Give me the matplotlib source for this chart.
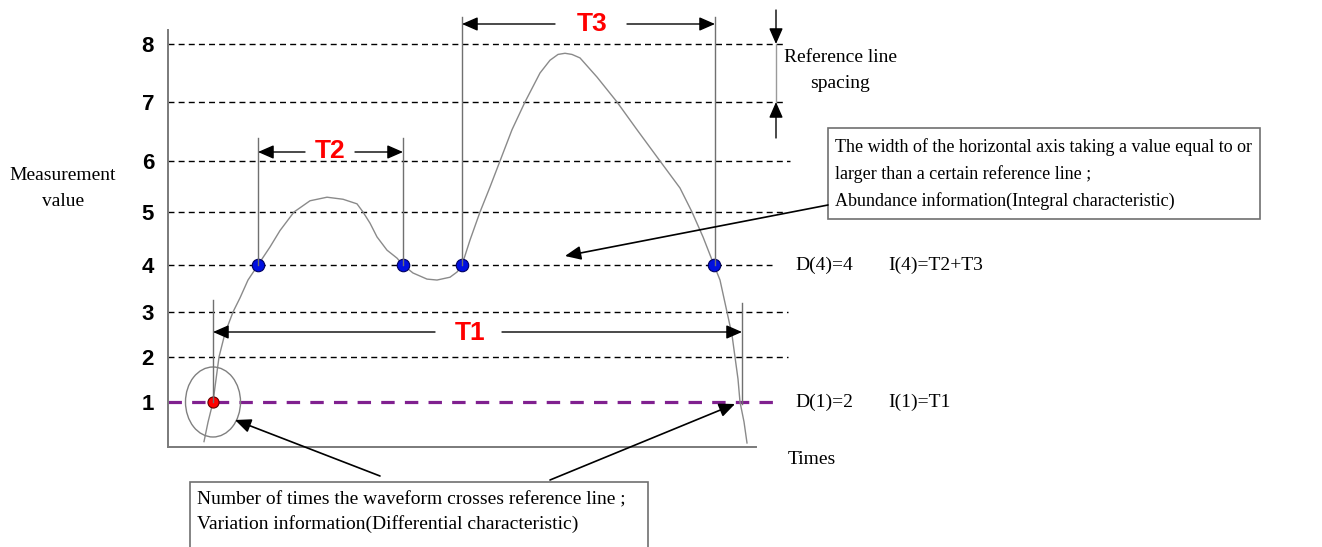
import numpy as np
import matplotlib
matplotlib.use("Agg")
import matplotlib.pyplot as plt
from matplotlib.patches import Ellipse, Rectangle

# reference levels and waveform (time in arbitrary units)
ref_levels = [1, 2, 3, 4, 5, 6, 7, 8]
wave_time = [204, 208, 213, 216, 219, 225, 233, 240, 248, 258, 270, 280, 294, 310,
             327, 343, 357, 363, 370, 377, 387, 397, 403, 413, 427, 437, 450, 457,
             462, 470, 480, 490, 500, 512, 525, 540, 550, 558, 565, 572, 580, 597,
             617, 637, 660, 680, 692, 703, 714, 720, 727, 732, 735, 738, 740, 744, 747]
wave_value = [0.12, 0.55, 1.0, 1.5, 2.0, 2.53, 3.0, 3.30, 3.68, 4.0, 4.34, 4.65, 5.0, 5.22,
              5.29, 5.25, 5.16, 5.0, 4.79, 4.53, 4.28, 4.13, 4.0, 3.83, 3.70, 3.68, 3.74, 3.85,
              4.0, 4.47, 5.0, 5.49, 6.0, 6.53, 7.0, 7.5, 7.72, 7.82, 7.84, 7.82, 7.76, 7.43,
              7.0, 6.53, 6.0, 5.47, 5.0, 4.53, 4.0, 3.68, 3.0, 2.49, 2.0, 1.51, 1.0, 0.56, 0.09]
cross4_time = [258, 403, 462, 714]
cross1_time = [213]

W, H = 1322, 547
SERIF = ["Liberation Serif", "DejaVu Serif"]
GOTHIC = ["Liberation Sans Narrow", "Liberation Sans", "DejaVu Sans"]

fig = plt.figure(figsize=(W / 100, H / 100), dpi=100)
fig.patch.set_facecolor("white")

# main plot box, reference lines in the drawing are not evenly spaced
ax = fig.add_axes([168 / W, (H - 447) / H, (756 - 168) / W, (447 - 30) / H])
lv = np.array([-6, 0, 1, 2, 3, 4, 5, 6, 7, 8, 14])
lp = np.array([717, 447, 402, 357, 312, 265, 212, 161, 102, 44, -304])
ax.set_yscale("function", functions=(lambda v: np.interp(v, lv, -lp),
                                     lambda t: np.interp(t, -lp, lv)))
ax.set_xlim(168, 756)
ax.set_ylim(0, np.interp(-30, -lp, lv))
ax.set_facecolor("none")
for s in ["top", "right"]:
    ax.spines[s].set_visible(False)
for s in ["left", "bottom"]:
    ax.spines[s].set_color("#7a7a7a")
    ax.spines[s].set_linewidth(1.4)
ax.set_xticks([])
ax.set_yticks(ref_levels)
ax.set_yticklabels([str(v) for v in ref_levels], fontfamily=["Liberation Sans", "DejaVu Sans"],
                   fontweight="bold", fontsize=16)
ax.tick_params(axis="y", length=0, pad=10)

line_end = {1: 780, 2: 788, 3: 788, 4: 772, 5: 783, 6: 790, 7: 783, 8: 783}
for lev in ref_levels:
    if lev == 1:
        ax.plot([168, line_end[lev]], [lev, lev], color="#80208f", lw=2.3,
                dashes=(4.2, 3.2), clip_on=False, zorder=2)
    else:
        ax.plot([168, line_end[lev]], [lev, lev], color="black", lw=1.0,
                dashes=(4.3, 3.0), clip_on=False, zorder=2)

ax.plot(wave_time, wave_value, color="#8a8a8a", lw=1.0, zorder=3, clip_on=False,
        solid_joinstyle="round")
ax.plot(cross4_time, [4] * len(cross4_time), "o", ms=9, color="#0010e0",
        mec="#000060", mew=0.8, zorder=4, clip_on=False)
ax.plot(cross1_time, [1] * len(cross1_time), "o", ms=8, color="#ff0000",
        mec="#600000", mew=0.8, zorder=4, clip_on=False)

# overlay for annotations, in pixel units
an = fig.add_axes([0, 0, 1, 1])
an.set_xlim(0, W)
an.set_ylim(H, 0)
an.axis("off")
an.set_facecolor("none")


def arrow(x0, y0, x1, y1, lw=1.0):
    an.annotate("", xy=(x1, y1), xytext=(x0, y0),
                arrowprops=dict(arrowstyle="-|>,head_length=0.8,head_width=0.35",
                                mutation_scale=12, color="black", lw=lw,
                                shrinkA=0, shrinkB=0))


def vline(x, y0, y1, color="#707070"):
    an.plot([x, x], [y0, y1], color=color, lw=1.0)


def tlabel(x, y, s):
    an.text(x, y, s, color="red", fontsize=19, fontweight="bold", fontfamily=GOTHIC,
            ha="center", va="center")


# T2
vline(258, 138, 265)
vline(403, 138, 265)
arrow(305, 152, 258, 152)
arrow(355, 152, 403, 152)
tlabel(330, 151, "T2")
# T3
vline(462, 17, 265)
vline(715, 17, 265)
arrow(555, 24, 462, 24)
arrow(627, 24, 715, 24)
tlabel(592, 24, "T3")
# T1
vline(213, 300, 402)
vline(742, 303, 404)
arrow(435, 332, 213, 332)
arrow(502, 332, 742, 332)
tlabel(470, 333, "T1")

# reference line spacing marker
arrow(776, 10, 776, 44)
vline(776, 44, 102, color="#9a9a9a")
arrow(776, 138, 776, 102)

an.add_patch(Ellipse((213, 402), 55, 70, fill=False, ec="#808080", lw=1.0))

# callouts
arrow(828, 205, 565, 256, lw=1.2)
arrow(550, 480, 735, 404, lw=1.2)
arrow(380, 476, 235, 420, lw=1.2)

an.add_patch(Rectangle((828, 128), 432, 91, fill=True, fc="white", ec="#707070", lw=1.2))
an.add_patch(Rectangle((190, 482), 458, 90, fill=True, fc="white", ec="#707070", lw=1.2))

tkw = dict(fontfamily=SERIF, fontsize=14, color="black")
box1 = ["The width of the horizontal axis taking a value equal to or",
        "larger than a certain reference line ;",
        "Abundance information(Integral characteristic)"]
for i, s in enumerate(box1):
    an.text(835, 147 + 27 * i, s, ha="left", va="center",
            fontfamily=SERIF, fontsize=13, color="black")
box2 = ["Number of times the waveform crosses reference line ;",
        "Variation information(Differential characteristic)"]
for i, s in enumerate(box2):
    an.text(197, 500 + 24 * i, s, ha="left", va="center", **tkw)

an.text(63, 176, "Measurement", ha="center", va="center", **tkw)
an.text(63, 201, "value", ha="center", va="center", **tkw)
an.text(840, 58, "Reference line", ha="center", va="center", **tkw)
an.text(840, 84, "spacing", ha="center", va="center", **tkw)
an.text(795, 265, "D(4)=4", ha="left", va="center", **tkw)
an.text(888, 265, "I(4)=T2+T3", ha="left", va="center", **tkw)
an.text(795, 402, "D(1)=2", ha="left", va="center", **tkw)
an.text(888, 402, "I(1)=T1", ha="left", va="center", **tkw)
an.text(788, 460, "Times", ha="left", va="center", **tkw)

fig.savefig("out.png", dpi=100)
